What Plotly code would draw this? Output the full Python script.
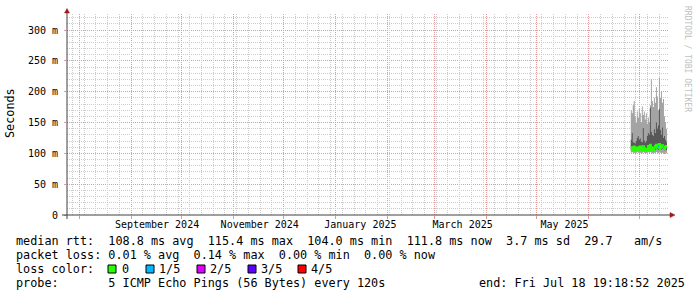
import plotly.graph_objects as go
import pandas as pd

# ---------------- data ----------------
end_time = pd.Timestamp("2025-07-18 19:18:52")
span_days = 359
start_time = end_time - pd.Timedelta(days=span_days)

sample_start = pd.Timestamp("2025-06-26 00:00:00")
sample_step_hours = 14.4  # one consolidated RRD step per pixel column

# smoke (ms): min / 2nd / 4th / max ping, median, loss level per step
max_ms = [170, 165, 178, 185, 160, 150, 168, 158, 172, 165, 150, 176,
          162, 168, 155, 165, 148, 158, 150, 178, 220, 185, 175, 190,
          182, 207, 192, 170, 223, 190, 201, 182, 188, 160, 150, 140]
p4_ms = [122, 133, 118, 117, 116, 120, 125, 128, 122, 124, 119, 118,
         141, 121, 117, 120, 128, 133, 130, 174, 135, 130, 128, 139,
         133, 150, 140, 145, 172, 138, 130, 142, 125, 128, 122, 118]
p2_ms = [106, 107, 105, 106, 104, 105, 107, 106, 105, 106, 104, 105,
         107, 106, 104, 105, 106, 107, 105, 108, 107, 106, 105, 107,
         106, 108, 107, 106, 108, 107, 106, 107, 106, 105, 106, 105]
min_ms = [101, 102, 100, 101, 99, 100, 102, 101, 100, 101, 99, 100,
          102, 101, 99, 100, 101, 102, 100, 102, 101, 100, 99, 101,
          100, 102, 101, 100, 102, 101, 100, 101, 100, 99, 101, 100]
median_ms = [107, 110, 106, 111, 105, 104, 109, 110, 106, 111, 108, 105,
             112, 109, 104, 104, 107, 112, 105, 114, 110, 107, 104, 109,
             112, 114, 109, 112, 115, 108, 110, 113, 111, 107, 110, 112]
loss_level = [0, 0, 0, 0, 0, 0, 0, 0, 0, 0, 0, 0,
              1, 0, 0, 0, 0, 0, 0, 0, 0, 0, 0, 0,
              0, 0, 1, 1, 0, 0, 0, 0, 1, 0, 0, 0]

y_tick_vals = [0, 50, 100, 150, 200, 250, 300]
y_tick_text = ["0", "50 m", "100 m", "150 m", "200 m", "250 m", "300 m"]
y_top = 326

month_labels = ["September 2024", "November 2024", "January 2025", "March 2025", "May 2025"]
month_label_pos = ["2024-09-16 12:00", "2024-11-16 18:00", "2025-01-15 18:00",
                   "2025-03-17 18:00", "2025-05-17 12:00"]

loss_names = ["0", "1/5", "2/5", "3/5", "4/5"]
loss_colors = ["#26ff00", "#00b8ff", "#dd00ff", "#5e00ff", "#ff0000"]

legend_row1 = "median rtt:  108.8 ms avg  115.4 ms max  104.0 ms min  111.8 ms now  3.7 ms sd  29.7   am/s"
legend_row2 = "packet loss: 0.01 % avg  0.14 % max  0.00 % min  0.00 % now"
legend_row3 = "loss color:"
legend_row4 = "probe:       5 ICMP Echo Pings (56 Bytes) every 120s"
legend_end = "end: Fri Jul 18 19:18:52 2025"
watermark = "RRDTOOL / TOBI OETIKER"

# ---------------- style / layout ----------------
W, H = 697, 297
L, R, T, B = 67, 669, 14, 215
GRID = "#cccccc"
MGRID = "#e09a9a"
AXIS = "#404040"
ARROW = "#9c1c1c"
MONO = "DejaVu Sans Mono"
LEG = 11.8

# grid positions: month starts (major), Sundays (minor); 50 ms (major), 10 ms (minor)
month_starts = list(pd.date_range("2024-08-01", "2025-07-01", freq="MS"))
sundays = [d for d in pd.date_range("2024-07-28", "2025-07-18", freq="W-SUN") if d.day != 1]
y_minor_vals = [v for v in range(0, y_top + 1, 10) if v % 50 != 0]


def pxx(x):
    return (x - L) / (R - L)


def pxy(y):
    return (B - y) / (B - T)


n = len(median_ms)
edges = [sample_start + pd.Timedelta(hours=sample_step_hours * i) for i in range(n + 1)]


def hv(vals):
    return list(vals) + [vals[-1]]


fig = go.Figure()
# carrier trace for the minor-grid axes (drawn first, under everything)
fig.add_trace(go.Scatter(x=[start_time, end_time], y=[None, None], xaxis="x3", yaxis="y2",
                         mode="lines", hoverinfo="skip", showlegend=False))
fig.add_trace(go.Scatter(x=edges, y=hv(min_ms), mode="lines",
                         line=dict(width=0, shape="hv"), hoverinfo="skip", showlegend=False))
fig.add_trace(go.Scatter(x=edges, y=hv(max_ms), mode="lines", fill="tonexty",
                         fillcolor="#a4a4a4", line=dict(width=0, shape="hv"),
                         hoverinfo="skip", showlegend=False))
fig.add_trace(go.Scatter(x=edges, y=hv(p2_ms), mode="lines",
                         line=dict(width=0, shape="hv"), hoverinfo="skip", showlegend=False))
fig.add_trace(go.Scatter(x=edges, y=hv(p4_ms), mode="lines", fill="tonexty",
                         fillcolor="#585858", line=dict(width=0, shape="hv"),
                         hoverinfo="skip", showlegend=False))
fig.add_trace(go.Scatter(x=edges, y=hv(median_ms), mode="lines",
                         line=dict(width=2, shape="hv", color=loss_colors[0]),
                         hoverinfo="skip", showlegend=False))
for lvl in range(1, len(loss_colors)):
    xs, ys = [], []
    for i in range(n):
        if loss_level[i] == lvl:
            xs += [edges[i], edges[i + 1], None]
            ys += [median_ms[i], median_ms[i], None]
    if xs:
        fig.add_trace(go.Scatter(x=xs, y=ys, mode="lines",
                                 line=dict(width=2, color=loss_colors[lvl]),
                                 hoverinfo="skip", showlegend=False))
# carrier trace for the label axis
fig.add_trace(go.Scatter(x=[start_time, end_time], y=[None, None], xaxis="x2",
                         mode="lines", hoverinfo="skip", showlegend=False))

grid_dash = "1px,1px"
fig.update_layout(
    width=W, height=H,
    margin=dict(l=L, r=W - R, t=T, b=H - B, pad=0),
    paper_bgcolor="white", plot_bgcolor="white",
    showlegend=False,
    xaxis=dict(type="date", range=[start_time, end_time],
               tickmode="array", tickvals=month_starts,
               showgrid=True, gridcolor=MGRID, griddash=grid_dash, gridwidth=1,
               ticks="outside", ticklen=3, tickcolor=MGRID,
               showticklabels=False, showline=False, zeroline=False),
    xaxis2=dict(type="date", range=[start_time, end_time], overlaying="x",
                anchor="y", side="bottom", tickmode="array",
                tickvals=month_label_pos, ticktext=month_labels,
                showgrid=False, ticks="", showline=False, zeroline=False,
                ticklabelstandoff=2,
                tickfont=dict(family=MONO, size=10, color="black")),
    xaxis3=dict(type="date", range=[start_time, end_time], overlaying="x",
                anchor="y2", tickmode="array", tickvals=sundays,
                showgrid=True, gridcolor=GRID, griddash=grid_dash, gridwidth=1,
                ticks="", showticklabels=False, showline=False, zeroline=False),
    yaxis=dict(range=[0, y_top], tickmode="array", tickvals=y_tick_vals,
               ticktext=y_tick_text, showgrid=True, gridcolor=MGRID,
               griddash=grid_dash, ticks="outside", ticklen=2, tickcolor=MGRID,
               ticklabelstandoff=4,
               zeroline=False, showline=False,
               tickfont=dict(family=MONO, size=10, color="black")),
    yaxis2=dict(range=[0, y_top], overlaying="y", anchor="x3", side="left",
                tickmode="array", tickvals=y_minor_vals,
                showgrid=True, gridcolor=GRID, griddash=grid_dash, gridwidth=1,
                ticks="", showticklabels=False, showline=False, zeroline=False),
)

# axis lines and arrows
fig.add_shape(type="line", xref="paper", yref="paper",
              x0=pxx(L), x1=pxx(L), y0=pxy(B + 4), y1=pxy(12),
              line=dict(color=AXIS, width=1))
fig.add_shape(type="line", xref="paper", yref="paper",
              x0=pxx(62), x1=pxx(671), y0=pxy(B), y1=pxy(B),
              line=dict(color=AXIS, width=1))
fig.add_shape(type="path", xref="paper", yref="paper",
              path=f"M {pxx(64.5)} {pxy(13)} L {pxx(69.5)} {pxy(13)} L {pxx(67)} {pxy(8.5)} Z",
              fillcolor=ARROW, line=dict(color=ARROW, width=0.5))
fig.add_shape(type="path", xref="paper", yref="paper",
              path=f"M {pxx(670)} {pxy(212.5)} L {pxx(670)} {pxy(217.5)} L {pxx(675)} {pxy(215)} Z",
              fillcolor=ARROW, line=dict(color=ARROW, width=0.5))

ann_common = dict(xref="paper", yref="paper", showarrow=False,
                  borderpad=0, borderwidth=0, xanchor="left", yanchor="middle")
rows_y = [241, 255, 269, 283]
for text, yy in [(legend_row1, rows_y[0]), (legend_row2, rows_y[1]),
                 (legend_row3, rows_y[2]), (legend_row4, rows_y[3])]:
    fig.add_annotation(x=pxx(16), y=pxy(yy), text=text.replace(" ", "&nbsp;"),
                       font=dict(family=MONO, size=LEG, color="black"), **ann_common)
fig.add_annotation(x=pxx(479), y=pxy(rows_y[3]), text=legend_end.replace(" ", "&nbsp;"),
                   font=dict(family=MONO, size=LEG, color="black"), **ann_common)

box_x = [108, 146, 197, 248, 298]
lab_x = [122, 159, 210, 261, 311]
for bx, lx, name, col in zip(box_x, lab_x, loss_names, loss_colors):
    fig.add_shape(type="rect", xref="paper", yref="paper",
                  x0=pxx(bx), x1=pxx(bx + 8), y0=pxy(rows_y[2] - 4), y1=pxy(rows_y[2] + 4),
                  fillcolor=col, line=dict(color="black", width=1))
    fig.add_annotation(x=pxx(lx), y=pxy(rows_y[2]), text=name,
                       font=dict(family=MONO, size=LEG, color="black"), **ann_common)

fig.add_annotation(x=pxx(10), y=pxy(113), text="Seconds", textangle=-90,
                   xref="paper", yref="paper", showarrow=False, borderpad=0,
                   xanchor="center", yanchor="middle",
                   font=dict(family=MONO, size=LEG, color="black"))
fig.add_annotation(x=pxx(687), y=pxy(59), text=watermark.replace(" ", "&nbsp;"), textangle=90,
                   xref="paper", yref="paper", showarrow=False, borderpad=0,
                   xanchor="center", yanchor="middle",
                   font=dict(family=MONO, size=8, color="#c0c0c0"))

fig.write_html("out.html")
